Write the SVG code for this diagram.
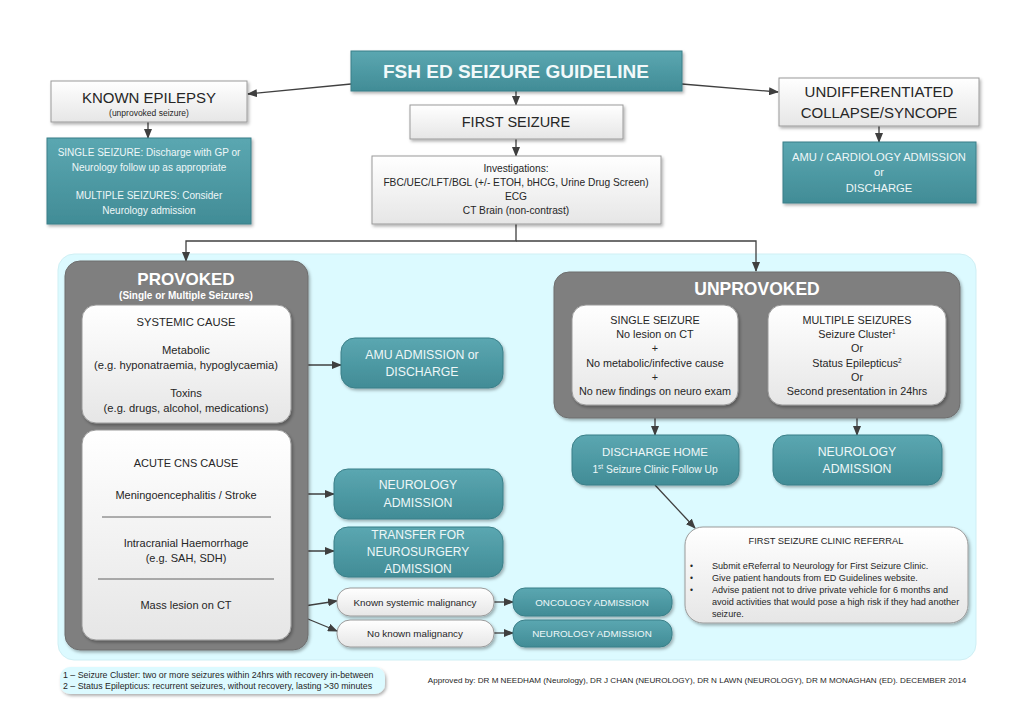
<svg xmlns="http://www.w3.org/2000/svg" width="1024" height="724" viewBox="0 0 1024 724">
<defs>
<linearGradient id="gTeal" x1="0" y1="0" x2="0" y2="1"><stop offset="0" stop-color="#5ba7b1"/><stop offset="1" stop-color="#418c96"/></linearGradient>
<linearGradient id="gWhite" x1="0" y1="0" x2="0" y2="1"><stop offset="0" stop-color="#ffffff"/><stop offset="1" stop-color="#e6e6e6"/></linearGradient>
<filter id="sh" x="-10%" y="-10%" width="130%" height="140%"><feDropShadow dx="1.5" dy="2" stdDeviation="1.5" flood-color="#000" flood-opacity="0.3"/></filter>
<marker id="ah" markerWidth="10" markerHeight="8" refX="9" refY="4" orient="auto" markerUnits="userSpaceOnUse"><path d="M0,0 L10,4 L0,8 z" fill="#3f3f3f"/></marker>
<style>
text{font-family:"Liberation Sans",Arial,sans-serif;text-anchor:middle}
.teal{fill:url(#gTeal);stroke:#3b7f88;stroke-width:1;filter:url(#sh)}
.wh{fill:url(#gWhite);stroke:#9a9a9a;stroke-width:1;filter:url(#sh)}
.gray{fill:#7f7f7f;stroke:#6e6e6e;stroke-width:1;filter:url(#sh)}
.tt{fill:#eef7f8}
.dk{fill:#262626}
.st{text-anchor:start}
.con line,.con path{stroke:#404040;stroke-width:1.3;fill:none;marker-end:url(#ah)}
</style>
</defs>
<rect width="1024" height="724" fill="#ffffff"/>
<g id="panel"><rect x="58" y="254" width="918" height="406" rx="16" fill="#dcfaff" stroke="#cfeff4" stroke-width="1"/></g>

<g class="con" id="connectors">
<line x1="516" y1="91" x2="516" y2="105"/>
<line x1="351" y1="84" x2="248" y2="94"/>
<line x1="682" y1="84" x2="778" y2="92"/>
<line x1="148" y1="122" x2="148" y2="138"/>
<line x1="516" y1="139" x2="516" y2="156"/>
<line x1="879" y1="126" x2="879" y2="142"/>
<path d="M516,224 V241 H186 V261" />
<path d="M516,241 H756 V271" />
<line x1="291" y1="365" x2="341" y2="365"/>
<line x1="291" y1="494" x2="334" y2="494"/>
<line x1="291" y1="551" x2="334" y2="551"/>
<line x1="291" y1="608" x2="337" y2="601"/>
<line x1="291" y1="612" x2="337" y2="631"/>
<line x1="494" y1="602" x2="513" y2="602"/>
<line x1="494" y1="633" x2="513" y2="633"/>
<line x1="655" y1="405" x2="655" y2="435"/>
<line x1="857" y1="405" x2="857" y2="435"/>
<line x1="655" y1="485" x2="695" y2="528"/>
</g>

<g id="title"><rect class="teal" x="351" y="51" width="331" height="40"/><text x="516" y="78" font-size="19" font-weight="bold" fill="#f2f9fa">FSH ED SEIZURE GUIDELINE</text></g>

<g id="known-epilepsy"><rect class="wh" x="51" y="81" width="196" height="41"/><text class="dk" x="149" y="103" font-size="15">KNOWN EPILEPSY</text><text class="dk" x="149" y="116" font-size="8.5">(unprovoked seizure)</text></g>

<g id="known-epilepsy-action"><rect class="teal" x="47" y="138" width="204" height="86"/>
<text class="tt" font-size="10"><tspan x="149" y="156">SINGLE SEIZURE: Discharge with GP or</tspan><tspan x="149" y="171">Neurology follow up as appropriate</tspan><tspan x="149" y="199">MULTIPLE SEIZURES: Consider</tspan><tspan x="149" y="214">Neurology admission</tspan></text></g>

<g id="first-seizure"><rect class="wh" x="410" y="105" width="213" height="34"/><text class="dk" x="516" y="127" font-size="14.5">FIRST SEIZURE</text></g>

<g id="investigations"><rect class="wh" x="372" y="156" width="289" height="68"/>
<text class="dk" font-size="10.2"><tspan x="516" y="172">Investigations:</tspan><tspan x="516" y="186">FBC/UEC/LFT/BGL (+/- ETOH, bHCG, Urine Drug Screen)</tspan><tspan x="516" y="200">ECG</tspan><tspan x="516" y="214">CT Brain (non-contrast)</tspan></text></g>

<g id="undifferentiated"><rect class="wh" x="779" y="78" width="200" height="48"/><text class="dk" font-size="15"><tspan x="879" y="97">UNDIFFERENTIATED</tspan><tspan x="879" y="118">COLLAPSE/SYNCOPE</tspan></text></g>

<g id="amu-cardiology"><rect class="teal" x="783" y="142" width="193" height="61"/><text class="tt" font-size="11.2"><tspan x="879" y="161">AMU / CARDIOLOGY ADMISSION</tspan><tspan x="879" y="176">or</tspan><tspan x="879" y="192">DISCHARGE</tspan></text></g>

<g id="provoked"><rect class="gray" x="65" y="261" width="243" height="389" rx="15"/>
<text x="186" y="285" font-size="17" font-weight="bold" fill="#ffffff">PROVOKED</text>
<text x="186" y="299" font-size="10" font-weight="bold" fill="#ffffff">(Single or Multiple Seizures)</text></g>

<g id="systemic-cause"><rect class="wh" x="82" y="305" width="209" height="118" rx="14"/>
<text class="dk" font-size="11.2"><tspan x="186" y="326">SYSTEMIC CAUSE</tspan><tspan x="186" y="354">Metabolic</tspan><tspan x="186" y="369">(e.g. hyponatraemia, hypoglycaemia)</tspan><tspan x="186" y="397">Toxins</tspan><tspan x="186" y="412">(e.g. drugs, alcohol, medications)</tspan></text></g>

<g id="acute-cns"><rect class="wh" x="82" y="430" width="209" height="210" rx="14"/>
<text class="dk" font-size="11"><tspan x="186" y="467">ACUTE CNS CAUSE</tspan><tspan x="186" y="499">Meningoencephalitis / Stroke</tspan><tspan x="186" y="547">Intracranial Haemorrhage</tspan><tspan x="186" y="562">(e.g. SAH, SDH)</tspan><tspan x="186" y="609">Mass lesion on CT</tspan></text>
<line x1="102" y1="517" x2="271" y2="517" stroke="#404040" stroke-width="0.8"/>
<line x1="98" y1="579" x2="274" y2="579" stroke="#404040" stroke-width="0.8"/></g>

<g id="amu-admission"><rect class="teal" x="341" y="338" width="162" height="50" rx="14"/><text class="tt" font-size="12.3"><tspan x="422" y="359">AMU ADMISSION or</tspan><tspan x="422" y="376">DISCHARGE</tspan></text></g>

<g id="neuro-admission-1"><rect class="teal" x="334" y="469" width="169" height="50" rx="14"/><text class="tt" font-size="12.3"><tspan x="418" y="489">NEUROLOGY</tspan><tspan x="418" y="507">ADMISSION</tspan></text></g>

<g id="neurosurgery"><rect class="teal" x="334" y="527" width="169" height="50" rx="14"/><text class="tt" font-size="12"><tspan x="418" y="539">TRANSFER FOR</tspan><tspan x="418" y="556">NEUROSURGERY</tspan><tspan x="418" y="573">ADMISSION</tspan></text></g>

<g id="known-malignancy"><rect class="wh" x="337" y="588" width="157" height="28" rx="13"/><text class="dk" x="415" y="605.5" font-size="9.8">Known systemic malignancy</text></g>
<g id="no-malignancy"><rect class="wh" x="337" y="620" width="157" height="27" rx="13"/><text class="dk" x="415" y="636.5" font-size="9.8">No known malignancy</text></g>
<g id="oncology"><rect class="teal" x="513" y="588" width="159" height="28" rx="12"/><text class="tt" x="592" y="606" font-size="9.8">ONCOLOGY ADMISSION</text></g>
<g id="neuro-admission-2"><rect class="teal" x="513" y="620" width="159" height="27" rx="12"/><text class="tt" x="592" y="637" font-size="9.8">NEUROLOGY ADMISSION</text></g>

<g id="unprovoked"><rect class="gray" x="554" y="272" width="406" height="146" rx="15"/><text x="757" y="295" font-size="17.5" font-weight="bold" fill="#ffffff">UNPROVOKED</text></g>

<g id="single-seizure"><rect class="wh" x="572" y="305" width="166" height="100" rx="14"/>
<text class="dk" font-size="10.8"><tspan x="655" y="324">SINGLE SEIZURE</tspan><tspan x="655" y="338">No lesion on CT</tspan><tspan x="655" y="352">+</tspan><tspan x="655" y="367">No metabolic/infective cause</tspan><tspan x="655" y="381">+</tspan><tspan x="655" y="395">No new findings on neuro exam</tspan></text></g>

<g id="multiple-seizures"><rect class="wh" x="768" y="305" width="178" height="100" rx="14"/>
<text class="dk" font-size="10.8"><tspan x="857" y="324">MULTIPLE SEIZURES</tspan><tspan x="857" y="338">Seizure Cluster<tspan font-size="6.5" dy="-4">1</tspan></tspan><tspan x="857" y="352">Or</tspan><tspan x="857" y="367">Status Epilepticus<tspan font-size="6.5" dy="-4">2</tspan></tspan><tspan x="857" y="381">Or</tspan><tspan x="857" y="395">Second presentation in 24hrs</tspan></text></g>

<g id="discharge-home"><rect class="teal" x="572" y="435" width="167" height="50" rx="14"/><text class="tt"><tspan x="655" y="456" font-size="11.5">DISCHARGE HOME</tspan><tspan x="655" y="473" font-size="10.3">1<tspan font-size="6.5" dy="-4">st</tspan><tspan dy="4"> Seizure Clinic Follow Up</tspan></tspan></text></g>

<g id="neuro-admission-3"><rect class="teal" x="773" y="435" width="169" height="50" rx="14"/><text class="tt" font-size="12.3"><tspan x="857" y="456">NEUROLOGY</tspan><tspan x="857" y="473">ADMISSION</tspan></text></g>

<g id="referral"><rect class="wh" x="685" y="527" width="283" height="96" rx="18"/>
<text class="dk" x="826" y="544" font-size="9.3">FIRST SEIZURE CLINIC REFERRAL</text>
<text class="dk st" x="690" y="569" font-size="8.5">•</text><text class="dk st" x="690" y="581" font-size="8.5">•</text><text class="dk st" x="690" y="593" font-size="8.5">•</text>
<text class="dk st" font-size="9.1"><tspan x="712" y="569">Submit eReferral to Neurology for First Seizure Clinic.</tspan><tspan x="712" y="581">Give patient handouts from ED Guidelines website.</tspan><tspan x="712" y="593">Advise patient not to drive private vehicle for 6 months and</tspan><tspan x="712" y="605">avoid activities that would pose a high risk if they had another</tspan><tspan x="712" y="617">seizure.</tspan></text></g>

<g id="footnotes"><rect x="60" y="667" width="325" height="27" rx="10" fill="#dcfaff" filter="url(#sh)"/>
<text class="dk st" font-size="8.8"><tspan x="63" y="678">1 – Seizure Cluster: two or more seizures within 24hrs with recovery in-between</tspan><tspan x="63" y="689">2 – Status Epilepticus: recurrent seizures, without recovery, lasting &gt;30 minutes</tspan></text></g>

<g id="approved"><text class="dk" x="697" y="683" font-size="8.1">Approved by: DR M NEEDHAM (Neurology), DR J CHAN (NEUROLOGY), DR N LAWN (NEUROLOGY), DR M MONAGHAN (ED). DECEMBER 2014</text></g>
</svg>
